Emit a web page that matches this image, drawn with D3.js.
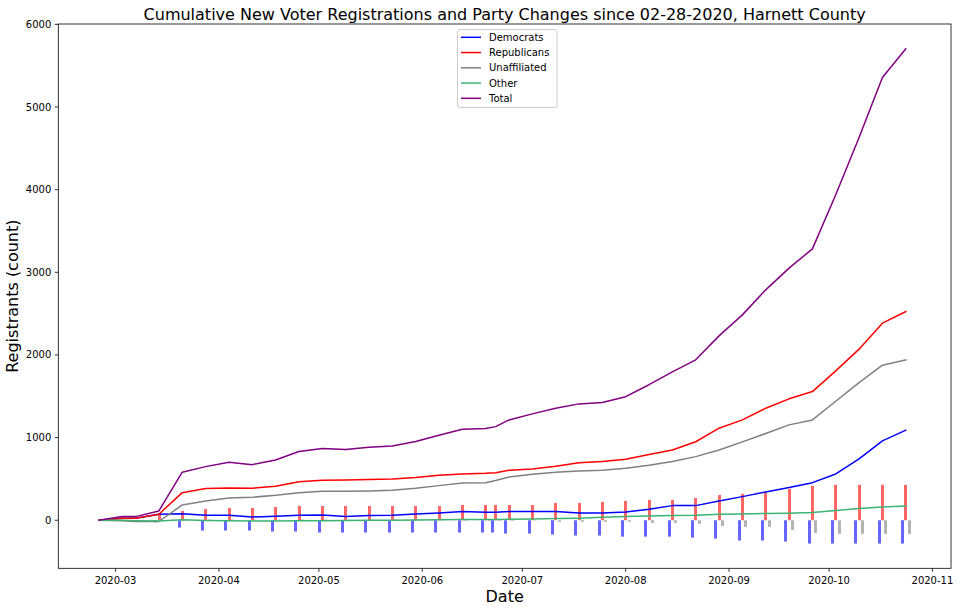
<!DOCTYPE html>
<html><head><meta charset="utf-8">
<script src="https://cdn.jsdelivr.net/npm/d3@7"></script>
<style>body{margin:0;background:#fff}svg{display:block}text{font-family:"DejaVu Sans",sans-serif;fill:#000}</style>
</head><body><svg id="c" width="960" height="611"></svg>
<script>
const dates = ["2020-02-25","2020-03-03","2020-03-07","2020-03-14","2020-03-21","2020-03-28","2020-04-04","2020-04-11","2020-04-18","2020-04-25","2020-05-02","2020-05-09","2020-05-16","2020-05-23","2020-05-30","2020-06-06","2020-06-13","2020-06-20","2020-06-23","2020-06-27","2020-07-04","2020-07-11","2020-07-18","2020-07-25","2020-08-01","2020-08-08","2020-08-15","2020-08-22","2020-08-29","2020-09-05","2020-09-12","2020-09-19","2020-09-26","2020-10-03","2020-10-10","2020-10-17","2020-10-24"];
const democrats = [0,25,25,73,80,61,61,40,48,61,65,44,56,61,77,89,105,97,97,105,105,105,89,89,101,133,177,177,234,286,343,395,455,560,742,960,1090];
const republicans = [0,24,24,73,334,383,391,387,411,467,484,488,492,500,516,545,561,569,576,605,621,654,697,710,738,795,850,950,1114,1214,1356,1469,1557,1807,2070,2385,2525];
const unaffiliated = [0,-5,-15,-15,185,234,270,278,302,334,352,350,355,363,387,419,452,455,480,524,557,581,597,605,630,665,712,770,851,948,1049,1154,1214,1440,1666,1876,1941];
const other = [0,0,-5,-8,5,-3,-5,-8,-8,-5,-5,-3,0,0,3,5,8,10,10,13,15,20,25,35,44,50,56,60,73,77,81,85,93,117,141,161,173];
const total = [0,44,44,113,581,649,702,673,730,831,867,855,884,899,952,1029,1102,1109,1133,1214,1287,1356,1408,1424,1495,1640,1795,1941,2231,2485,2788,3050,3284,3938,4630,5358,5705];
const demChange = [0,0,0,-24,-89,-125,-125,-125,-137,-137,-149,-149,-149,-149,-149,-149,-149,-149,-149,-161,-161,-173,-185,-185,-198,-198,-198,-210,-222,-246,-246,-258,-282,-282,-282,-282,-282];
const repChange = [0,0,0,85,113,137,149,149,161,173,173,173,173,173,173,173,185,185,185,185,185,210,210,222,234,246,246,270,306,319,331,379,416,428,428,428,428];
const unaChange = [0,0,0,0,8,8,8,8,8,8,8,8,8,8,8,8,-8,-8,-8,-8,-5,-20,-20,-20,-20,-32,-32,-44,-69,-81,-81,-117,-153,-165,-165,-165,-165];
const seriesNames = ["Democrats","Republicans","Unaffiliated","Other","Total"];
const seriesColors = ["blue","red","gray","mediumseagreen","purple"];
const yTickValues = [0,1000,2000,3000,4000,5000,6000];
const xTickLabels = ["2020-03","2020-04","2020-05","2020-06","2020-07","2020-08","2020-09","2020-10","2020-11"];
const titleText = "Cumulative New Voter Registrations and Party Changes since 02-28-2020, Harnett County";

const svg = d3.select("#c");
const M = {l:58.3, r:951, t:24, b:568.3};
const DAY = 864e5;
const parse = d3.utcParse("%Y-%m-%d");
const X = dates.map(parse);
const xMin = +X[0], xMax = +X[X.length-1] + 1.4*DAY;
const xSpan = xMax - xMin;
const x = d3.scaleUtc().domain([new Date(xMin - 0.05*xSpan), new Date(xMax + 0.05*xSpan)]).range([M.l, M.r]);
const allV = [].concat(democrats,republicans,unaffiliated,other,total,demChange,repChange,unaChange);
const yLo = d3.min(allV), yHi = d3.max(allV), ySpan = yHi - yLo;
const y = d3.scaleLinear().domain([yLo - 0.05*ySpan, yHi + 0.05*ySpan]).range([M.b, M.t]);

svg.append("defs").append("clipPath").attr("id","clip").append("rect")
  .attr("x",M.l).attr("y",M.t).attr("width",M.r-M.l).attr("height",M.b-M.t);
const plot = svg.append("g").attr("clip-path","url(#clip)");

// bars (snapped to whole pixels like the raster backend)
const barSets = [[demChange,-1,"blue"],[repChange,0,"red"],[unaChange,1,"gray"]];
barSets.forEach(([vals,off,col]) => {
  plot.append("g").selectAll("rect").data(vals).join("rect")
    .attr("x",(d,i)=>Math.round(x(new Date(+X[i]+(off-0.4)*DAY))))
    .attr("width",(d,i)=>Math.max(3,Math.round(x(new Date(+X[i]+(off+0.4)*DAY)) - Math.round(x(new Date(+X[i]+(off-0.4)*DAY))))))
    .attr("y",d=>y(Math.max(0,d)))
    .attr("height",d=>Math.abs(y(d)-y(0)))
    .attr("fill",col).attr("fill-opacity",0.6);
});

// lines
const seriesData = [democrats,republicans,unaffiliated,other,total];
const line = d3.line().x((d,i)=>x(X[i])).y(d=>y(d));
seriesData.forEach((s,k)=>{
  plot.append("path").datum(s).attr("d",line).attr("fill","none")
    .attr("stroke",seriesColors[k]).attr("stroke-width",1.5).attr("stroke-linejoin","round").attr("stroke-linecap","square");
});

// frame
svg.append("rect").attr("x",M.l).attr("y",M.t).attr("width",M.r-M.l).attr("height",M.b-M.t)
  .attr("fill","none").attr("stroke","#000").attr("stroke-width",0.8);

// y ticks
const gy = svg.append("g");
yTickValues.forEach(v=>{
  gy.append("line").attr("x1",M.l-3.5).attr("x2",M.l).attr("y1",y(v)).attr("y2",y(v)).attr("stroke","#000").attr("stroke-width",0.8);
  gy.append("text").attr("x",M.l-7).attr("y",y(v)).attr("dy","0.35em").attr("text-anchor","end").attr("font-size",10).text(v);
});
// x ticks
const gx = svg.append("g");
xTickLabels.forEach(lbl=>{
  const xv = x(parse(lbl+"-01"));
  gx.append("line").attr("x1",xv).attr("x2",xv).attr("y1",M.b).attr("y2",M.b+3.5).attr("stroke","#000").attr("stroke-width",0.8);
  gx.append("text").attr("x",xv).attr("y",584).attr("text-anchor","middle").attr("font-size",10).text(lbl);
});

// labels
const cx = (M.l+M.r)/2, cy = (M.t+M.b)/2;
svg.append("text").attr("x",cx).attr("y",19.5).attr("text-anchor","middle").attr("font-size",16).text(titleText);
svg.append("text").attr("x",cx).attr("y",602).attr("text-anchor","middle").attr("font-size",16).text("Date");
svg.append("text").attr("transform",`translate(18,${cy}) rotate(-90)`).attr("text-anchor","middle").attr("font-size",16).text("Registrants (count)");

// legend
const lg = svg.append("g");
lg.append("rect").attr("x",457.5).attr("y",29.5).attr("width",99.5).attr("height",78).attr("rx",2.5)
  .attr("fill","#fff").attr("fill-opacity",0.8).attr("stroke","#cccccc").attr("stroke-width",1);
seriesNames.forEach((n,k)=>{
  const yy = 37.3 + k*15.25;
  lg.append("line").attr("x1",461).attr("x2",481).attr("y1",yy).attr("y2",yy).attr("stroke",seriesColors[k]).attr("stroke-width",1.5);
  lg.append("text").attr("x",489).attr("y",yy).attr("dy","0.35em").attr("font-size",10).text(n);
});
</script></body></html>
